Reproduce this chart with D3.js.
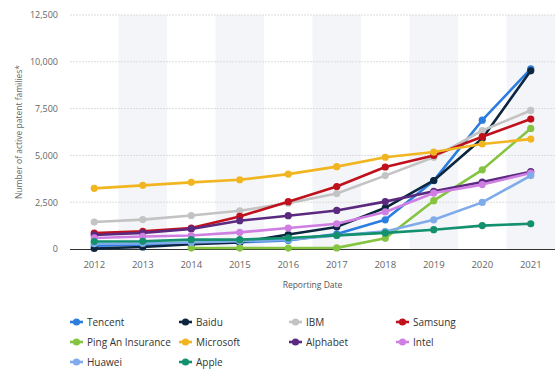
<!DOCTYPE html>
<html>
<head>
<meta charset="utf-8">
<script src="https://cdn.jsdelivr.net/npm/d3@7"></script>
<style>
  body { margin: 0; background: #fff; }
  text { font-family: "Open Sans", sans-serif; }
</style>
</head>
<body>
<script>
var years = [2012, 2013, 2014, 2015, 2016, 2017, 2018, 2019, 2020, 2021];
var yTicks = [0, 2500, 5000, 7500, 10000, 12500];

var companies = ["Tencent", "Baidu", "IBM", "Samsung", "Ping An Insurance",
                 "Microsoft", "Alphabet", "Intel", "Huawei", "Apple"];
var colors = ["#2b7de0", "#0d2640", "#c3c3c3", "#c0101c", "#85c440",
              "#f1b520", "#5b2a80", "#cf7fe2", "#80abea", "#13906e"];

var tencent   = [180, 230, 300, 360, 460, 800, 1560, 3650, 6880, 9620];
var baidu     = [30, 110, 250, 350, 770, 1180, 2200, 3660, 5900, 9520];
var ibm       = [1440, 1570, 1790, 2040, 2450, 2960, 3920, 4900, 6330, 7400];
var samsung   = [850, 940, 1120, 1740, 2530, 3340, 4380, 5000, 6000, 6940];
var pingAn    = [null, null, 50, 50, 50, 60, 570, 2580, 4230, 6440];
var microsoft = [3240, 3400, 3560, 3700, 4000, 4400, 4900, 5180, 5610, 5870];
var alphabet  = [750, 860, 1070, 1510, 1780, 2060, 2530, 3080, 3580, 4130];
var intel     = [590, 670, 720, 890, 1120, 1350, 1980, 2990, 3440, 4060];
var huawei    = [280, 300, 350, 410, 500, 720, 940, 1560, 2490, 3920];
var apple     = [400, 410, 500, 500, 590, 730, 860, 1030, 1250, 1350];

var seriesValues = [tencent, baidu, ibm, samsung, pingAn,
                    microsoft, alphabet, intel, huawei, apple];

var width = 556, height = 369;
var margin = {top: 15, left: 70, right: 1, bottom: 120};

var svg = d3.select("body").append("svg")
    .attr("width", width)
    .attr("height", height);

var x = d3.scaleBand()
    .domain(years)
    .range([margin.left, width - margin.right])
    .padding(0);

var y = d3.scaleLinear()
    .domain([0, 12500])
    .range([249, margin.top]);

// alternating column bands
svg.append("g").selectAll("rect")
    .data(years.filter(function (d, i) { return i % 2 == 1; }))
    .enter().append("rect")
    .attr("x", function (d) { return x(d); })
    .attr("y", y(12500))
    .attr("width", x.bandwidth())
    .attr("height", y(0) - y(12500))
    .attr("fill", "#f4f5f8");

// grid lines
svg.append("g").selectAll("line")
    .data(yTicks.slice(1))
    .enter().append("line")
    .attr("x1", margin.left)
    .attr("x2", width - margin.right)
    .attr("y1", function (d) { return y(d); })
    .attr("y2", function (d) { return y(d); })
    .attr("stroke", "#dcdcdc")
    .attr("stroke-dasharray", "2,1");

// y axis
var yAxis = d3.axisLeft(y)
    .tickValues(yTicks)
    .tickSize(0)
    .tickPadding(12)
    .tickFormat(d3.format(","));
var gy = svg.append("g")
    .attr("transform", "translate(" + margin.left + ",0)")
    .call(yAxis);
gy.select(".domain").remove();
gy.selectAll("text").attr("fill", "#666").style("font-size", "9px");

// x axis
var xAxis = d3.axisBottom(x).tickSize(0).tickPadding(12);
var gx = svg.append("g")
    .attr("transform", "translate(0," + y(0) + ")")
    .call(xAxis);
gx.select(".domain").attr("stroke", "#333").attr("stroke-width", 1)
    .attr("d", "M" + margin.left + ",0.5H" + (width - margin.right));
gx.selectAll("text").attr("fill", "#666").style("font-size", "9.5px");

// axis titles
svg.append("text")
    .attr("transform", "translate(22," + ((y(0) + y(12500)) / 2) + ") rotate(-90)")
    .attr("text-anchor", "middle")
    .attr("fill", "#666")
    .style("font-size", "8.5px")
    .text("Number of active patent families*");

svg.append("text")
    .attr("x", (margin.left + width - margin.right) / 2)
    .attr("y", 288)
    .attr("text-anchor", "middle")
    .attr("fill", "#555")
    .style("font-size", "8.5px")
    .text("Reporting Date");

// lines
var line = d3.line()
    .defined(function (d) { return d.v != null; })
    .x(function (d) { return x(d.year) + x.bandwidth() / 2; })
    .y(function (d) { return y(d.v); });

companies.forEach(function (name, i) {
    var pts = years.map(function (yr, j) { return {year: yr, v: seriesValues[i][j]}; });
    var g = svg.append("g");
    g.append("path")
        .attr("d", line(pts))
        .attr("fill", "none")
        .attr("stroke", colors[i])
        .attr("stroke-width", 2.6)
        .attr("stroke-linejoin", "round");
    g.selectAll("circle")
        .data(pts.filter(function (d) { return d.v != null; }))
        .enter().append("circle")
        .attr("cx", function (d) { return x(d.year) + x.bandwidth() / 2; })
        .attr("cy", function (d) { return y(d.v); })
        .attr("r", 3.6)
        .attr("fill", colors[i]);
});

// legend
var legX = [70, 179, 289, 396];
var legY = [322, 342, 362];
companies.forEach(function (name, i) {
    var col = i % 4, row = Math.floor(i / 4);
    var lg = svg.append("g")
        .attr("transform", "translate(" + legX[col] + "," + legY[row] + ")");
    lg.append("line")
        .attr("x1", 0).attr("x2", 13)
        .attr("stroke", colors[i]).attr("stroke-width", 2.6);
    lg.append("circle").attr("cx", 6.5).attr("r", 3.6).attr("fill", colors[i]);
    lg.append("text")
        .attr("x", 17)
        .attr("dy", "0.35em")
        .attr("fill", "#333")
        .style("font-size", "10px")
        .text(name);
});
</script>
</body>
</html>
